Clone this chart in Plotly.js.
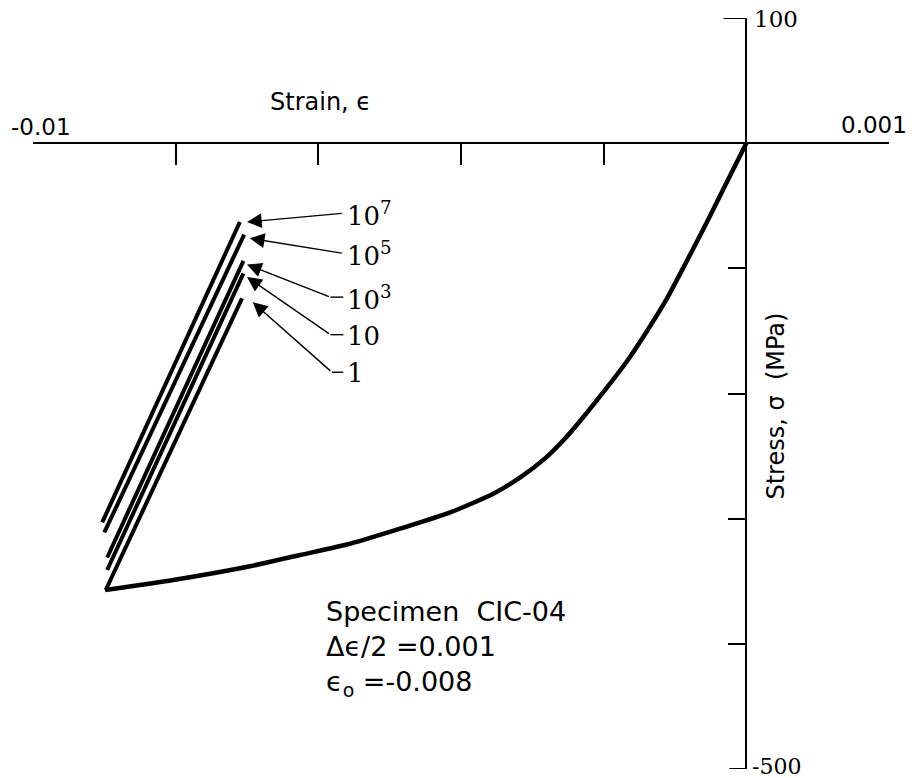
<!DOCTYPE html>
<html>
<head>
<meta charset="utf-8">
<script src="https://cdn.plot.ly/plotly-3.0.1.min.js"></script>
<style>html,body{margin:0;padding:0;background:#fff;}#chart{width:914px;height:778px;}</style>
</head>
<body>
<div id="chart"></div>
<script>
// Monotonic compressive loading curve (strain, stress MPa)
const strainMono = [0, -0.000281, -0.000561, -0.000842, -0.001122, -0.001403, -0.001683, -0.001964, -0.002244, -0.002525, -0.002805, -0.00317, -0.003548, -0.004151, -0.004853, -0.005554, -0.006255, -0.006956, -0.008036, -0.00899];
const stressMono = [0, -32, -64, -95, -125, -151, -175, -196, -216, -235, -251, -267, -280, -295, -308, -320, -329, -338, -349, -357];

// Cycle branches (cycle number labels and end points)
const cycleLabels = ['1', '10', '10<sup>3</sup>', '10<sup>5</sup>', '10<sup>7</sup>'];
const cycleStrainMin = [-0.00898, -0.00896, -0.00896, -0.00900, -0.00903];
const cycleStressMin = [-357, -341, -331, -311, -303];
const cycleStrainMax = [-0.00707, -0.00705, -0.00705, -0.00704, -0.00710];
const cycleStressMax = [-124, -104, -94, -73, -63];

// Axis tick values and labels
const xTickVals = [-0.010, -0.008, -0.006, -0.004, -0.002, 0, 0.002];
const xTickText = ['-0.01', '', '', '', '', '', '0.001'];
const yTickVals = [100, 0, -100, -200, -300, -400, -500];
const yTickText = ['100', '', '', '', '', '', '-500'];

const specimenText = ['Specimen  CIC-04', '\u0394\u03f5/2 =0.001', '\u03f5<sub>o</sub> =-0.008'];

const traces = [];
for (let i = 0; i < cycleLabels.length; i++) {
  traces.push({
    x: [cycleStrainMin[i], cycleStrainMax[i]],
    y: [cycleStressMin[i], cycleStressMax[i]],
    mode: 'lines', line: {color: '#000', width: 4}, hoverinfo: 'skip', showlegend: false
  });
}
traces.push({
  x: strainMono, y: stressMono, mode: 'lines',
  line: {color: '#000', width: 4.5, shape: 'spline', smoothing: 0.6},
  hoverinfo: 'skip', showlegend: false
});

const sansFont = {family: 'DejaVu Sans, sans-serif', color: '#000'};
const serifFont = {family: 'DejaVu Serif, serif', color: '#000'};

// arrow geometry for cycle labels (data units)
const arrowTipX = [-0.00692, -0.00700, -0.00700, -0.00696, -0.00700];
const arrowTipY = [-127, -107, -97, -76, -63];
const bendX = [-0.00581, -0.00583, -0.00583, -0.00565, -0.00565];
const bendY = [-183, -153, -123, -88, -56];
const tailX = -0.00565;
const labelX = -0.00562;

const annotations = [];
const shapes = [];
for (let i = 0; i < cycleLabels.length; i++) {
  annotations.push({
    x: arrowTipX[i], y: arrowTipY[i], xref: 'x', yref: 'y',
    ax: bendX[i], ay: bendY[i], axref: 'x', ayref: 'y',
    text: '', showarrow: true, arrowhead: 2, arrowsize: 2.1, arrowwidth: 1.4, arrowcolor: '#000', standoff: 0
  });
  shapes.push({type: 'line', xref: 'x', yref: 'y', x0: bendX[i], y0: bendY[i], x1: tailX, y1: bendY[i],
    line: {color: '#000', width: 1.4}});
  annotations.push({
    x: labelX, y: bendY[i], xref: 'x', yref: 'y', xanchor: 'left', yanchor: 'middle', yshift: -1,
    text: cycleLabels[i], showarrow: false, font: Object.assign({size: 26}, serifFont)
  });
}
// end ticks of the stress axis (left-pointing)
shapes.push({type: 'line', xref: 'x', yref: 'y', x0: -0.00032, y0: yTickVals[0], x1: 0, y1: yTickVals[0], line: {color: '#000', width: 2}});
shapes.push({type: 'line', xref: 'x', yref: 'y', x0: -0.00024, y0: yTickVals[6], x1: 0, y1: yTickVals[6], line: {color: '#000', width: 2}});

// tick labels
annotations.push({x: xTickVals[0], y: 0, xref: 'x', yref: 'y', xanchor: 'left', yanchor: 'bottom', xshift: -24, yshift: 1,
  text: xTickText[0], showarrow: false, font: Object.assign({size: 23}, sansFont)});
annotations.push({x: xTickVals[6], y: 0, xref: 'x', yref: 'y', xanchor: 'right', yanchor: 'bottom', xshift: 20, yshift: 3,
  text: xTickText[6], showarrow: false, font: Object.assign({size: 23}, sansFont)});
annotations.push({x: 0, y: yTickVals[0], xref: 'x', yref: 'y', xanchor: 'left', yanchor: 'middle', xshift: 6, yshift: -1,
  text: yTickText[0], showarrow: false, font: Object.assign({size: 23}, serifFont)});
annotations.push({x: 0, y: yTickVals[6], xref: 'x', yref: 'y', xanchor: 'left', yanchor: 'middle', xshift: 4, yshift: 3,
  text: yTickText[6], showarrow: false, font: Object.assign({size: 22}, serifFont)});
// axis titles
annotations.push({x: -0.00597, y: 33, xref: 'x', yref: 'y', xanchor: 'center', yanchor: 'middle',
  text: 'Strain, \u03f5', showarrow: false, font: Object.assign({size: 24}, sansFont)});
annotations.push({x: 0.00041, y: -210, xref: 'x', yref: 'y', xanchor: 'center', yanchor: 'middle', textangle: -90,
  text: 'Stress, \u03c3  (MPa)', showarrow: false, font: Object.assign({size: 24}, sansFont)});
// specimen text
annotations.push({x: -0.00592, y: -360, xref: 'x', yref: 'y', xanchor: 'left', yanchor: 'top', align: 'left',
  text: specimenText.join('<br>'), showarrow: false, font: Object.assign({size: 27}, sansFont)});

const layout = {
  width: 914, height: 778,
  margin: {l: 33, r: 25, t: 18, b: 9},
  paper_bgcolor: '#fff', plot_bgcolor: '#fff',
  showlegend: false,
  xaxis: {
    range: [-0.010, 0.002], side: 'top', anchor: 'free', position: 500 / 600,
    showline: true, linecolor: '#000', linewidth: 2,
    showgrid: false, zeroline: false,
    tickmode: 'array', tickvals: xTickVals, ticktext: xTickText, showticklabels: false,
    ticks: 'inside', ticklen: 21, tickwidth: 2, tickcolor: '#000'
  },
  yaxis: {
    range: [-500, 100], side: 'right', anchor: 'free', position: 10 / 12,
    showline: true, linecolor: '#000', linewidth: 2,
    showgrid: false, zeroline: false,
    tickmode: 'array', tickvals: yTickVals, ticktext: yTickText, showticklabels: false,
    ticks: 'inside', ticklen: 17, tickwidth: 2, tickcolor: '#000'
  },
  annotations: annotations,
  shapes: shapes
};

Plotly.newPlot('chart', traces, layout, {displayModeBar: false, staticPlot: true});
</script>
</body>
</html>
